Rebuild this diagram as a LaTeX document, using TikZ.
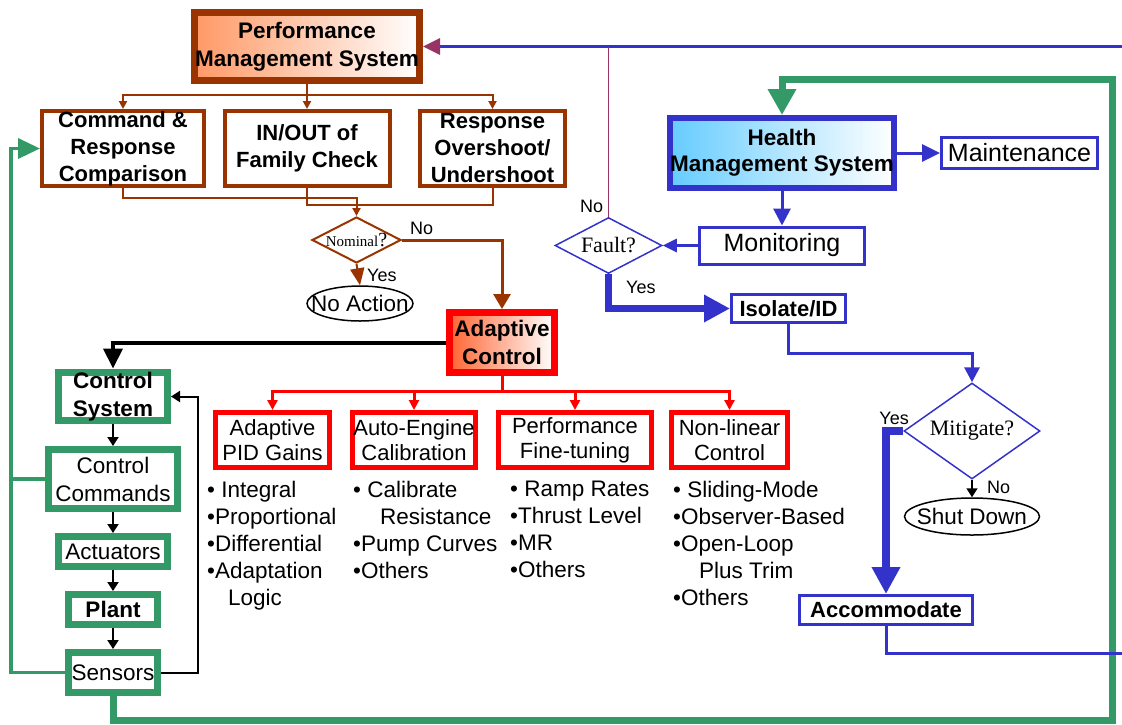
\documentclass[tikz,border=0pt]{standalone}
\usepackage{fontspec}
\setmainfont{Liberation Sans}
\newfontfamily\timesface{Liberation Serif}
\usetikzlibrary{arrows.meta,shapes.geometric}
\definecolor{pmbrown}{HTML}{993300}
\definecolor{hmblue}{HTML}{3333CC}
\definecolor{csgreen}{HTML}{339966}
\definecolor{acred}{HTML}{FF0000}
\definecolor{pmorange}{HTML}{FF9966}
\definecolor{acorange}{HTML}{FF6633}
\definecolor{hmcyan}{HTML}{66CCFF}
\definecolor{linkpurple}{HTML}{993366}
\tikzset{%
  box/.style      = {shape=rectangle, draw, align=center, inner sep=0pt},%
  pmsbox/.style   = {box, draw=pmbrown, line width=7pt, left color=pmorange, right color=white,%
                     font=\bfseries\fontsize{22.5}{28}\selectfont},%
  checkbox/.style = {box, draw=pmbrown, line width=4pt, font=\bfseries\fontsize{22}{27}\selectfont},%
  acbox/.style    = {box, draw=acred, line width=7pt, left color=acorange, right color=white,%
                     font=\bfseries\fontsize{22.5}{28}\selectfont},%
  lawbox/.style   = {box, draw=acred, line width=5pt, font=\fontsize{22}{25}\selectfont},%
  loopbox/.style  = {box, draw=csgreen, line width=7pt, font=\fontsize{22.5}{28}\selectfont},%
  hmsbox/.style   = {box, draw=hmblue, line width=6pt, left color=hmcyan, right color=white,%
                     font=\bfseries\fontsize{22.5}{26}\selectfont},%
  taskbox/.style  = {box, draw=hmblue, line width=3pt, font=\fontsize{25}{25}\selectfont},%
  stepbox/.style  = {box, draw=hmblue, line width=3pt, font=\bfseries\fontsize{22}{22}\selectfont},%
  query/.style    = {diamond, draw, inner sep=0pt, line width=1.5pt},%
  querytext/.style= {inner sep=0pt, font=\timesface\fontsize{22}{22}\selectfont},%
  stopnode/.style = {ellipse, draw, inner sep=0pt, line width=1.5pt},%
  stoptext/.style = {inner sep=0pt, font=\fontsize{22.5}{22.5}\selectfont},%
  answer/.style   = {inner sep=0pt, font=\fontsize{18}{18}\selectfont},%
  bullets/.style  = {align=left, anchor=north west, inner sep=0pt, font=\fontsize{22.5}{27}\selectfont},%
  brownline/.style= {draw=pmbrown, line width=2pt},%
  redline/.style  = {draw=acred, line width=3pt},%
  blueline/.style = {draw=hmblue, line width=3pt},%
  greenline/.style= {draw=csgreen, line width=3.5pt},%
  blackline/.style= {draw=black, line width=2pt, -{Triangle[length=9pt,width=11pt]}}%
}
\begin{document}
\begin{tikzpicture}[x=1pt,y=-1pt]
\useasboundingbox (0,0) rectangle (1122,724);
\node[pmsbox, minimum width=225, minimum height=68] (pms) at (307,46.5) {Performance\\Management System};
\node[checkbox, minimum width=162, minimum height=75] (cmp) at (123,148.5) {Command \&\\Response\\Comparison};
\node[checkbox, minimum width=165, minimum height=75] (fam) at (307,148.5) {IN/OUT of\\Family Check};
\node[checkbox, minimum width=145, minimum height=75] (ovs) at (492.5,148.5) {Response\\Overshoot/\\Undershoot};
\node[query, draw=pmbrown, line width=2pt, minimum width=89, minimum height=46,
      label={[querytext]center:{\fontsize{15}{15}\selectfont Nominal}{\fontsize{20}{20}\selectfont ?}}] (nominal) at (356.5,240) {};
\node[stopnode, minimum width=106, minimum height=35, label={[stoptext]center:No Action}] (noaction) at (360,303.5) {};
\node[answer, anchor=west] (nomyes) at (367,275) {Yes};
\node[answer, anchor=west] (nomno) at (410,228) {No};
\node[acbox, minimum width=105, minimum height=60] (adaptive) at (502,342.5) {Adaptive\\Control};
\node[lawbox, minimum width=114, minimum height=55] (pid) at (272.5,440) {Adaptive\\PID Gains};
\node[lawbox, minimum width=123, minimum height=55] (autocal) at (414,440) {Auto-Engine\\Calibration};
\node[lawbox, minimum width=153, minimum height=55] (finetune) at (575,440) {Performance\\Fine-tuning};
\node[lawbox, minimum width=116, minimum height=55] (nonlin) at (729.5,440) {Non-linear\\Control};
\node[bullets] (pidlist) at (207,481) {• Integral\\•Proportional\\•Differential\\•Adaptation\\\hspace*{21pt}Logic};
\node[bullets] (autolist) at (353,481) {• Calibrate\\\hspace*{27pt}Resistance\\•Pump Curves\\•Others};
\node[bullets] (tunelist) at (510,481) {• Ramp Rates\\•Thrust Level\\•MR\\•Others};
\node[bullets] (nonlist) at (673,481) {• Sliding-Mode\\•Observer-Based\\•Open-Loop\\\hspace*{26pt}Plus Trim\\•Others};
\node[loopbox, font=\bfseries\fontsize{22.5}{28}\selectfont, minimum width=109, minimum height=48] (ctrlsys) at (113,396.5) {Control\\System};
\node[loopbox, minimum width=129, minimum height=59] (cmds) at (113,479) {Control\\Commands};
\node[loopbox, minimum width=109, minimum height=30] (actuators) at (113,551.5) {Actuators};
\node[loopbox, font=\bfseries\fontsize{22.5}{22.5}\selectfont, minimum width=89, minimum height=30] (plant) at (113,609.5) {Plant};
\node[loopbox, minimum width=89, minimum height=40] (sensors) at (113,672.5) {Sensors};
\node[hmsbox, minimum width=224, minimum height=70] (hms) at (782,153) {Health\\Management System};
\node[taskbox, minimum width=156, minimum height=31] (maint) at (1019.5,153) {Maintenance};
\node[taskbox, minimum width=165, minimum height=37] (monitor) at (782,245.5) {Monitoring};
\node[query, draw=hmblue, minimum width=107, minimum height=56, label={[querytext]center:Fault?}] (fault) at (608.5,245.5) {};
\node[answer, anchor=west] (faultno) at (580,206) {No};
\node[answer, anchor=west] (faultyes) at (626,287) {Yes};
\node[stepbox, minimum width=114, minimum height=28] (isolate) at (788.5,308.5) {Isolate/ID};
\node[query, draw=hmblue, minimum width=136, minimum height=96, label={[querytext]center:Mitigate?}] (mitigate) at (972,431) {};
\node[answer, anchor=east] (mityes) at (909,418) {Yes};
\node[answer, anchor=west] (mitno) at (987,487) {No};
\node[stopnode, minimum width=135, minimum height=37, label={[stoptext]center:Shut Down}] (shutdown) at (972,516.5) {};
\node[stepbox, minimum width=173, minimum height=29] (accom) at (886,610) {Accommodate};
\coordinate (pmsfork) at (307,95);
\coordinate (acfork) at (502,391);
\coordinate (pmsfeed) at (1122,46.5);
\coordinate (gleft) at (11,148.5);
\coordinate (gbottom) at (1112,720);
\coordinate (gtop) at (1112,79);
\coordinate (accomout) at (1122,653);
\draw[brownline] (pms.south) -- (pmsfork);
\draw[brownline, -{Triangle[length=8pt,width=8pt]}] (pmsfork) -| (cmp.north);
\draw[brownline, -{Triangle[length=8pt,width=8pt]}] (pmsfork) -- (fam.north);
\draw[brownline, -{Triangle[length=8pt,width=8pt]}] (pmsfork) -| (ovs.north);
\draw[brownline, -{Triangle[length=8pt,width=8pt]}] (cmp.south) -- ++(0,10) -| (nominal.north);
\draw[brownline] (fam.south) -- ++(0,17) -| (ovs.south);
\draw[brownline, -{Triangle[length=17pt,width=14pt]}] (nominal.south) -- (noaction.north);
\draw[brownline, line width=3pt, -{Triangle[length=15pt,width=17pt]}] (nominal.east) -| (adaptive.north);
\draw[black, line width=4pt, -{Triangle[length=20pt,width=19pt]}] (adaptive.west) -| (ctrlsys.north);
\draw[redline] (adaptive.south) -- (acfork);
\draw[redline, -{Triangle[length=10pt,width=10pt]}] (acfork) -| (pid.north);
\draw[redline, -{Triangle[length=10pt,width=10pt]}] (acfork) -| (autocal.north);
\draw[redline, -{Triangle[length=10pt,width=10pt]}] (acfork) -| (finetune.north);
\draw[redline, -{Triangle[length=10pt,width=10pt]}] (acfork) -| (nonlin.north);
\draw[blackline] (ctrlsys.south) -- (cmds.north);
\draw[blackline] (cmds.south) -- (actuators.north);
\draw[blackline] (actuators.south) -- (plant.north);
\draw[blackline] (plant.south) -- (sensors.north);
\draw[blackline] (sensors.east) -- ++(36.5,0) |- (ctrlsys.east);
\draw[greenline, -{Triangle[length=22pt,width=20pt]}] (sensors.west) -| (gleft) -- (cmp.west);
\draw[greenline] (cmds.west) -- (cmds.west -| gleft);
\draw[csgreen, line width=7pt, -{Triangle[length=26pt,width=27pt]}] (sensors.south) |- (gbottom) -- (gtop) -| (hms.north);
\draw[blueline, -{Triangle[length=17pt,width=16pt,color=linkpurple]}] (pmsfeed) -- (pms.east);
\draw[linkpurple, line width=1.5pt] (fault.north) -- (fault.north |- pmsfeed);
\draw[blueline, -{Triangle[length=18pt,width=17pt]}] (hms.east) -- (maint.west);
\draw[blueline, -{Triangle[length=17pt,width=17pt]}] (hms.south) -- (monitor.north);
\draw[blueline, -{Triangle[length=14pt,width=13pt]}] (monitor.west) -- (fault.east);
\draw[hmblue, line width=7pt, -{Triangle[length=26pt,width=26pt]}] (fault.south) |- (isolate.west);
\draw[blueline, -{Triangle[length=15pt,width=15pt]}] (isolate.south) -- ++(0,29.5) -| (mitigate.north);
\draw[black, line width=1.5pt, -{Triangle[length=9pt,width=11pt]}] (mitigate.south) -- (shutdown.north);
\draw[hmblue, line width=8pt, -{Triangle[length=27pt,width=27pt]}] (mitigate.west) -| (accom.north);
\draw[blueline] (accom.south) |- (accomout);
\end{tikzpicture}
\end{document}
